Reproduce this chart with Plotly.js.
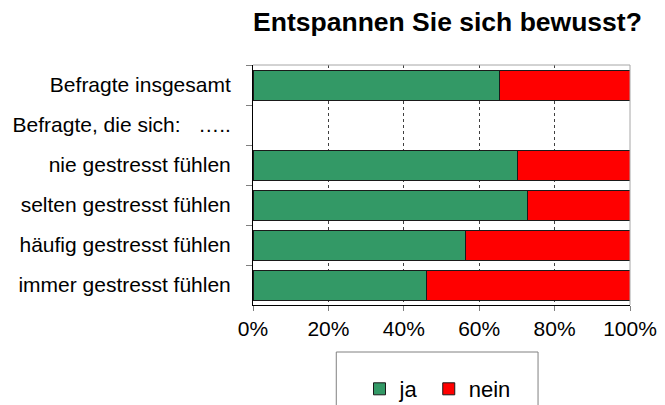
<!DOCTYPE html>
<html>
<head>
<meta charset="utf-8">
<script src="https://cdn.plot.ly/plotly-3.0.1.min.js"></script>
<style>html,body{margin:0;padding:0;background:#fff}#chart{width:665px;height:405px}</style>
</head>
<body>
<div id="chart"></div>
<script>
const categories = [
  "Befragte insgesamt",
  "Befragte, die sich:\u00a0\u00a0\u00a0…..",
  "nie gestresst fühlen",
  "selten gestresst fühlen",
  "häufig gestresst fühlen",
  "immer gestresst fühlen"
];
const seriesNames = ["ja", "nein"];
const jaValues   = [65.3, null, 70.2, 72.7, 56.3, 46.1];
const neinValues = [34.7, null, 29.8, 27.3, 43.7, 53.9];
const xTickValues = [0, 20, 40, 60, 80, 100];
const chartTitle = "Entspannen Sie sich bewusst?";

const font = "Liberation Sans, Arial, sans-serif";
const traces = [
  {type: "bar", orientation: "h", name: seriesNames[0] + "\u00a0", y: categories, x: jaValues,
   marker: {color: "#339966", line: {color: "#1a1a1a", width: 1}}, hoverinfo: "x+y"},
  {type: "bar", orientation: "h", name: seriesNames[1], y: categories, x: neinValues,
   marker: {color: "#ff0000", line: {color: "#1a1a1a", width: 1}}, hoverinfo: "x+y"}
];
const layout = {
  width: 665, height: 405,
  margin: {l: 252.5, r: 34.5, t: 65, b: 100},
  paper_bgcolor: "#fff", plot_bgcolor: "#fff",
  barmode: "stack", bargap: 0.25,
  font: {family: font, size: 21, color: "#000"},
  title: {text: "<b>" + chartTitle + "</b>", font: {family: font, size: 26.5, color: "#000"},
          x: 447.5/665, xref: "container", xanchor: "center",
          y: 1 - 22/405, yref: "container", yanchor: "middle"},
  xaxis: {range: [0, 100], tickvals: xTickValues, ticktext: xTickValues.map(v => v + "%"),
          showline: true, linecolor: "#000", linewidth: 1,
          ticks: "outside", ticklen: 5, tickcolor: "#808080",
          showgrid: true, gridcolor: "#404040", griddash: "3px,3px", gridwidth: 1,
          zeroline: false, fixedrange: true, tickfont: {size: 21}},
  yaxis: {type: "category", autorange: "reversed", tickson: "boundaries",
          showline: true, linecolor: "#000", linewidth: 1,
          ticks: "outside", ticklen: 6, tickcolor: "#808080",
          showgrid: false, zeroline: false, fixedrange: true,
          ticklabelstandoff: 17, tickfont: {size: 21}},
  showlegend: true,
  legend: {orientation: "h", xref: "container", yref: "container",
           x: 359.5/665, xanchor: "left",
           y: 1 - 368/405, yanchor: "top", bgcolor: "rgba(0,0,0,0)",
           borderwidth: 0, font: {size: 22}, traceorder: "normal"},
  shapes: [
    {type: "line", xref: "paper", yref: "paper", x0: 0, x1: 1, y0: 1, y1: 1,
     line: {color: "#a6a6a6", width: 1}},
    {type: "line", xref: "paper", yref: "paper", x0: 1, x1: 1, y0: 0, y1: 1,
     line: {color: "#a6a6a6", width: 1}},
    {type: "rect", xref: "paper", yref: "paper",
     x0: (336-252.5)/378, x1: (538.3-252.5)/378, y0: (305-352)/240, y1: (305-425)/240,
     line: {color: "#808080", width: 1}, fillcolor: "rgba(0,0,0,0)"}
  ]
};
Plotly.newPlot("chart", traces, layout, {displayModeBar: false, staticPlot: true});
</script>
</body>
</html>
